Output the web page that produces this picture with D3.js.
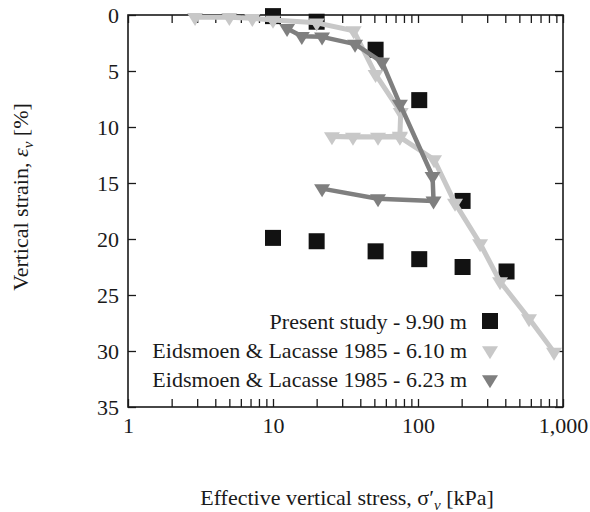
<!DOCTYPE html>
<html>
<head>
<meta charset="utf-8">
<script src="https://cdn.jsdelivr.net/npm/d3@7"></script>
<style>
  html, body { margin: 0; padding: 0; background: #fff; }
  svg { display: block; }
  text { font-family: "Liberation Serif", "Times New Roman", serif; fill: #1a1a1a; }
</style>
</head>
<body>
<svg id="chart" width="590" height="512"></svg>
<script>
// ---- data ----
const seriesNames = [
  "Present study - 9.90 m",
  "Eidsmoen & Lacasse 1985 - 6.10 m",
  "Eidsmoen & Lacasse 1985 - 6.23 m"
];
const presentStress = [10, 20, 51, 102, 203, 408, 203, 102, 51, 20, 10];
const presentStrain = [0.1, 0.6, 3.1, 7.6, 16.6, 22.9, 22.5, 21.8, 21.1, 20.2, 19.9];

const e610Stress = [2.9, 5, 7.2, 10, 20, 36, 51, 76, 75, 53, 35.6, 25.5, 75, 129, 180, 268, 368, 583, 867];
const e610Strain = [0.2, 0.2, 0.3, 0.45, 0.7, 1.4, 5.3, 8.7, 10.8, 10.9, 10.9, 10.85, 10.9, 12.9, 16.8, 20.4, 23.8, 27.1, 30.1];

const e623Stress = [12.5, 15.8, 21.8, 36.8, 56.5, 75, 126, 128, 53, 21.8];
const e623Strain = [1.2, 1.9, 1.95, 2.6, 4.2, 7.95, 14.4, 16.6, 16.4, 15.5];

const xMajorTicks = [1, 10, 100, 1000];
const yTicks = [0, 5, 10, 15, 20, 25, 30, 35];

// ---- layout ----
const svg = d3.select("#chart");
const L = 128, R = 563, T = 15, B = 407;
const x = d3.scaleLog().domain([1, 1000]).range([L, R]);
const y = d3.scaleLinear().domain([0, 35]).range([T, B]);

const axisColor = "#1a1a1a";
const fontSize = 22;

// minor ticks for log axis
const xAllTicks = [];
for (let d = 1; d < 1000; d *= 10) for (let k = 1; k < 10; k++) xAllTicks.push(d * k);
xAllTicks.push(1000);

const fmt = d3.format(",");
function styleAxis(g) {
  g.select(".domain").remove();
  g.selectAll(".tick line").attr("stroke", axisColor).attr("stroke-width", 1.3);
  g.selectAll(".tick text").attr("font-size", fontSize).attr("fill", axisColor)
    .style("font-family", '"Liberation Serif", serif');
}

svg.append("g").attr("transform", `translate(0,${B})`)
  .call(d3.axisBottom(x).tickValues(xAllTicks).tickSizeInner(-8).tickSizeOuter(0).tickPadding(10)
    .tickFormat(d => xMajorTicks.includes(d) ? fmt(d) : ""))
  .call(styleAxis);
svg.append("g").attr("transform", `translate(0,${T})`)
  .call(d3.axisTop(x).tickValues(xAllTicks).tickSizeInner(-8).tickSizeOuter(0).tickFormat(""))
  .call(styleAxis);
svg.append("g").attr("transform", `translate(${L},0)`)
  .call(d3.axisLeft(y).tickValues(yTicks).tickSizeInner(-8).tickSizeOuter(0).tickPadding(9)
    .tickFormat(d3.format("d")))
  .call(styleAxis);
svg.append("g").attr("transform", `translate(${R},0)`)
  .call(d3.axisRight(y).tickValues(yTicks).tickSizeInner(-8).tickSizeOuter(0).tickFormat(""))
  .call(styleAxis);

// frame
svg.append("rect").attr("x", L).attr("y", T).attr("width", R - L).attr("height", B - T)
  .attr("fill", "none").attr("stroke", axisColor).attr("stroke-width", 1.6);

// ---- marks ----
const light = "#c8c8c8", dark = "#7f7f7f", black = "#121212";
const triW = 16, triH = 13;
function triPath(cx, cy) {
  // downward triangle: top edge above centre by h/3, tip below by 2h/3
  return `M${cx - triW / 2},${cy - triH / 3}L${cx + triW / 2},${cy - triH / 3}L${cx},${cy + 2 * triH / 3}Z`;
}
const sq = 16;

const presentPts = presentStress.map((s, i) => ({ s, e: presentStrain[i] }));
const e610Pts = e610Stress.map((s, i) => ({ s, e: e610Strain[i] }));
const e623Pts = e623Stress.map((s, i) => ({ s, e: e623Strain[i] }));

const line = d3.line().x(d => x(d.s)).y(d => y(d.e));

// squares
svg.append("g").selectAll("rect").data(presentPts).join("rect")
  .attr("x", d => x(d.s) - sq / 2).attr("y", d => y(d.e) - sq / 2)
  .attr("width", sq).attr("height", sq).attr("fill", black);

// light series
svg.append("path").datum(e610Pts).attr("d", line)
  .attr("fill", "none").attr("stroke", light).attr("stroke-width", 5).attr("stroke-linejoin", "round");
svg.append("g").selectAll("path").data(e610Pts).join("path")
  .attr("d", d => triPath(x(d.s), y(d.e))).attr("fill", light);

// dark series
svg.append("path").datum(e623Pts).attr("d", line)
  .attr("fill", "none").attr("stroke", dark).attr("stroke-width", 4.5).attr("stroke-linejoin", "round");
svg.append("g").selectAll("path").data(e623Pts).join("path")
  .attr("d", d => triPath(x(d.s), y(d.e))).attr("fill", dark);

// ---- legend ----
const legY = [321, 350, 379];
const legTextX = 467, legMarkX = 490;
seriesNames.forEach((name, i) => {
  svg.append("text").attr("x", legTextX).attr("y", legY[i]).attr("dy", "0.35em")
    .attr("text-anchor", "end").attr("font-size", fontSize).text(name);
});
svg.append("rect").attr("x", legMarkX - sq / 2).attr("y", legY[0] - sq / 2)
  .attr("width", sq).attr("height", sq).attr("fill", black);
svg.append("path").attr("d", triPath(legMarkX, legY[1] + 0.5)).attr("fill", light);
svg.append("path").attr("d", triPath(legMarkX, legY[2] + 0.5)).attr("fill", dark);

// ---- axis titles ----
const xt = svg.append("text").attr("x", 347).attr("y", 505).attr("text-anchor", "middle")
  .attr("font-size", fontSize);
xt.append("tspan").text("Effective vertical stress, ");
xt.append("tspan").text("σ′");
xt.append("tspan").attr("font-style", "italic").attr("font-size", 15).attr("dy", 5).text("v");
xt.append("tspan").attr("dy", -5).text(" [kPa]");

const yt = svg.append("text").attr("transform", "translate(28,197) rotate(-90)")
  .attr("text-anchor", "middle").attr("font-size", fontSize);
yt.append("tspan").text("Vertical strain, ");
yt.append("tspan").attr("font-style", "italic").text("ε");
yt.append("tspan").attr("font-style", "italic").attr("font-size", 15).attr("dy", 5).text("v");
yt.append("tspan").attr("dy", -5).text(" [%]");
</script>
</body>
</html>
